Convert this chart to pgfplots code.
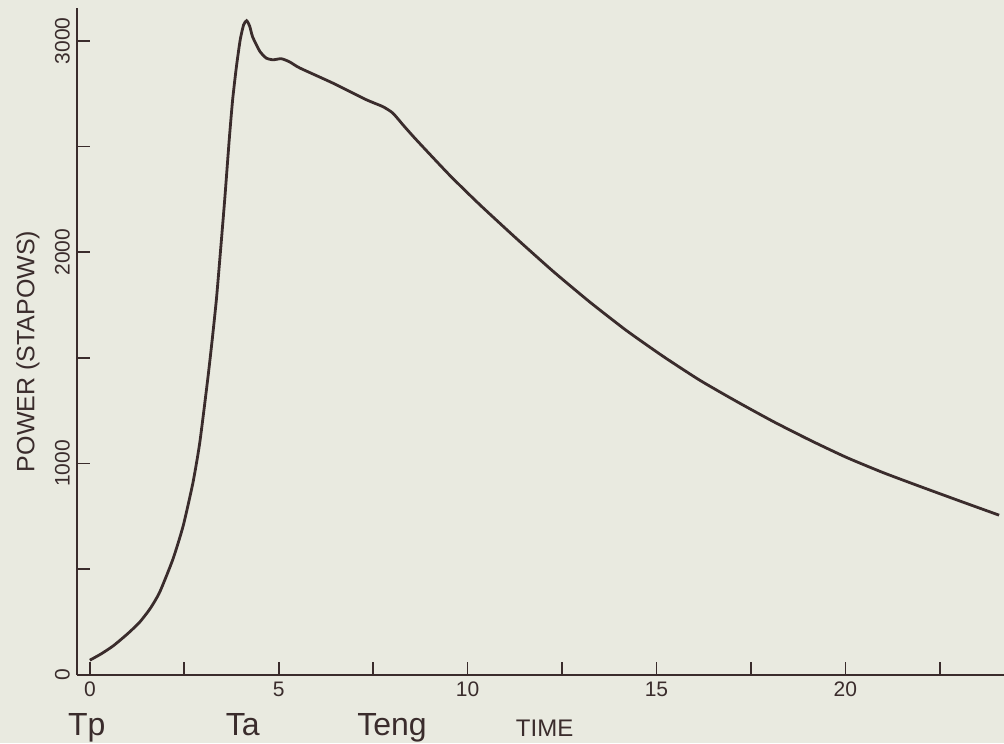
\documentclass[border=0pt]{standalone}
\usepackage{fontspec}
\setmainfont{Liberation Sans}
\usepackage{pgfplots}
\pgfplotsset{compat=1.18}
\definecolor{paper}{RGB}{233,234,224}
\definecolor{ink}{RGB}{58,44,44}
\begin{document}
\begin{tikzpicture}[x=1pt,y=1pt]
\fill[paper] (-38.5,-34) rectangle (463.5,337.5);
\useasboundingbox (-38.5,-34) rectangle (463.5,337.5);
\begin{axis}[
at={(0,0)}, anchor=south west,
scale only axis,
width=463.5pt, height=333.5pt,
xmin=-0.34, xmax=24.2,
ymin=0, ymax=3155,
axis x line=bottom, axis y line=left,
axis line style={ink, line width=1pt, -},
tick align=inside,
major tick length=6.5pt,
tick style={ink, line width=0.8pt},
xtick={0,2.5,5,7.5,10,12.5,15,17.5,20,22.5},
xticklabels={0,{},5,{},10,{},15,{},20,{}},
ytick={0,500,1000,1500,2000,2500,3000},
yticklabels={0,{},1000,{},2000,{},3000},
yticklabel style={rotate=90, anchor=south},
ticklabel style={font=\fontsize{10.5}{12}\selectfont, text=ink},
/pgf/number format/assume math mode=true,
ylabel={POWER (STAPOWS)},
ylabel style={at={(axis description cs:-0.053,0.485)}, anchor=center, font=\fontsize{12.5}{14}\selectfont, text=ink},
clip=false,
]
\addplot[ink, line width=1.4pt, smooth, tension=0.35] coordinates {
(0,70) (0.3,100) (0.62,138) (1.0,195) (1.32,250) (1.6,315) (1.85,392)
(2.2,548) (2.47,705) (2.73,910) (2.91,1099) (3.12,1398) (3.24,1587)
(3.35,1776) (3.44,1965) (3.57,2248) (3.69,2532) (3.78,2721) (3.88,2877)
(3.98,3004) (4.07,3075) (4.15,3095) (4.23,3070) (4.31,3018) (4.5,2950)
(4.67,2918) (4.85,2910) (5.07,2915) (5.29,2900) (5.56,2871) (6.43,2800)
(7.32,2721) (7.75,2689) (8.02,2658) (8.3,2600) (8.64,2532) (9.52,2365)
(10.32,2225) (11.29,2065) (12.26,1910) (13.23,1765) (14.2,1630)
(15.17,1508) (16.14,1395) (17.11,1295) (18.08,1200) (19.05,1112)
(20.02,1030) (20.99,958) (21.96,893) (23.0,825) (24.07,756)
};
\node[text=ink, anchor=base, font=\fontsize{16}{18}\selectfont] at (axis cs:-0.08,-284) {Tp};
\node[text=ink, anchor=base, font=\fontsize{16}{18}\selectfont] at (axis cs:4.05,-284) {Ta};
\node[text=ink, anchor=base, font=\fontsize{16}{18}\selectfont] at (axis cs:8.0,-284) {Teng};
\node[text=ink, anchor=base, font=\fontsize{12}{14}\selectfont] at (axis cs:12.04,-292) {TIME};
\end{axis}
\end{tikzpicture}
\end{document}
